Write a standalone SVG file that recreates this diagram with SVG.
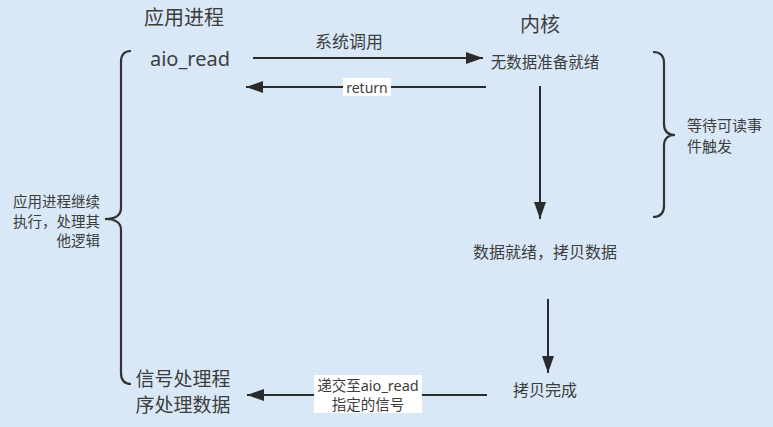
<svg xmlns="http://www.w3.org/2000/svg" width="773" height="427" viewBox="0 0 773 427">
<style>
.t{font-family:"Noto Sans","Noto Sans CJK SC",sans-serif;fill:#3d3d3d;dominant-baseline:central}
.m{text-anchor:middle}
.e{text-anchor:end}
.ln{stroke:#2b2b2b;stroke-width:2;fill:none}
.br{stroke:#333;stroke-width:2.2;fill:none}
</style>
<defs>
<marker id="ah" markerUnits="userSpaceOnUse" markerWidth="18" markerHeight="12" refX="17" refY="6" orient="auto">
<path d="M0,0 L17,6 L0,12 z" fill="#2b2b2b"/>
</marker>
</defs>
<rect width="773" height="427" fill="#d9e8f7"/>
<g id="title-app"><text class="t m" x="184" y="17" font-size="20">应用进程</text></g>
<g id="title-kernel"><text class="t m" x="540" y="24" font-size="20">内核</text></g>
<g id="aio_read"><text class="t m" x="190" y="58" font-size="20">aio_read</text></g>
<g id="no-data"><text class="t m" x="545" y="62" font-size="15.5">无数据准备就绪</text></g>
<g id="data-ready"><text class="t m" x="545" y="252" font-size="16">数据就绪，拷贝数据</text></g>
<g id="copy-done"><text class="t m" x="545" y="390" font-size="16">拷贝完成</text></g>
<g id="signal-handler">
<text class="t m" x="183" y="379" font-size="19">信号处理程</text>
<text class="t m" x="183" y="405" font-size="19">序处理数据</text>
</g>
<g id="left-brace">
<path class="br" d="M131,51 Q121,51 121,62 L121,208 Q121,219 105,219 Q121,219 121,230 L121,373 Q121,384 131,384"/>
<text class="t e" x="100" y="201" font-size="14.5">应用进程继续</text>
<text class="t e" x="100" y="221" font-size="14.5">执行，处理其</text>
<text class="t e" x="100" y="240" font-size="14.5">他逻辑</text>
</g>
<g id="right-brace">
<path class="br" d="M653,52 Q664,52 664,63 L664,124 Q664,135 675,135 Q664,135 664,146 L664,206 Q664,217 653,217"/>
<text class="t" x="687" y="125" font-size="15">等待可读事</text>
<text class="t" x="687" y="146" font-size="15">件触发</text>
</g>
<g id="connectors">
<line class="ln" x1="253" y1="58" x2="483" y2="58" marker-end="url(#ah)"/>
<text class="t m" x="349" y="41" font-size="17">系统调用</text>
<line class="ln" x1="486" y1="87" x2="246" y2="87" marker-end="url(#ah)"/>
<rect x="343" y="78" width="48" height="18" fill="#fff"/>
<text class="t m" x="367" y="87" font-size="14">return</text>
<line class="ln" x1="540" y1="86" x2="540" y2="219" marker-end="url(#ah)"/>
<line class="ln" x1="548" y1="299" x2="548" y2="373" marker-end="url(#ah)"/>
<line class="ln" x1="487" y1="395" x2="247" y2="395" marker-end="url(#ah)"/>
<rect x="314" y="375" width="108" height="38" fill="#fff"/>
<text class="t m" x="368" y="384.5" font-size="14.5">递交至aio_read</text>
<text class="t m" x="368" y="403.5" font-size="14.5">指定的信号</text>
</g>
</svg>
